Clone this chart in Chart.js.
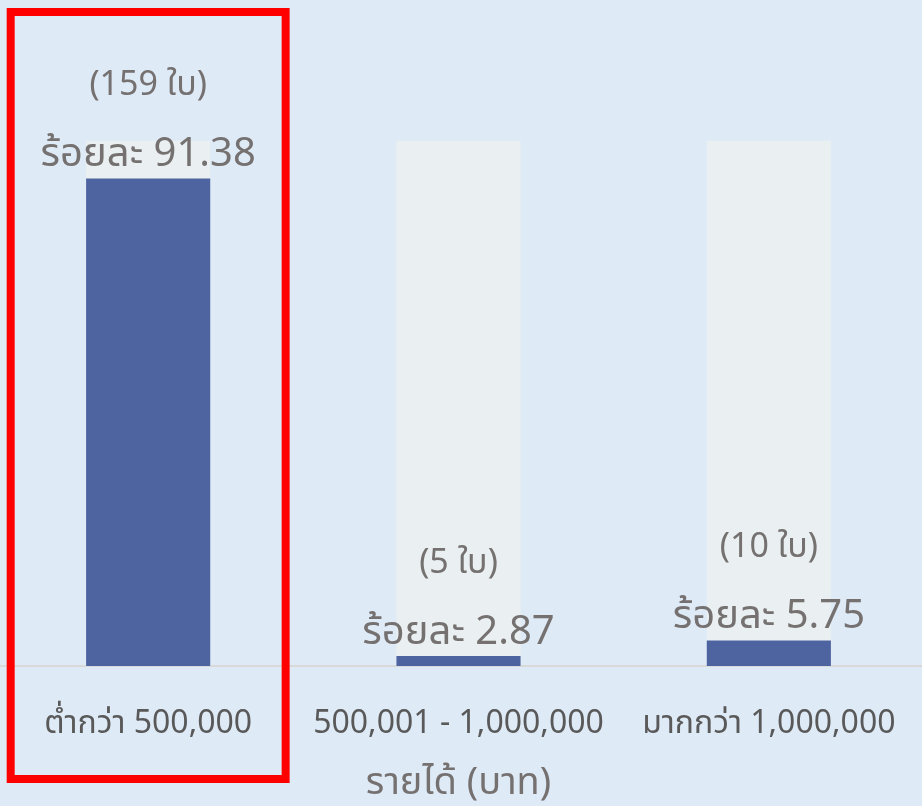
<!DOCTYPE html>
<html lang="th">
<head>
<meta charset="utf-8">
<script src="https://cdn.jsdelivr.net/npm/chart.js@4.4.1/dist/chart.umd.min.js"></script>
<style>
  html, body { margin: 0; padding: 0; background: #deeaf6; overflow: hidden; }
  #wrap { width: 931px; height: 806px; position: absolute; left: -7px; top: 0; }
</style>
</head>
<body>
<div id="wrap"><canvas id="income-chart"></canvas></div>
<script>
  const categories = ['ต่ำกว่า 500,000', '500,001 - 1,000,000', 'มากกว่า 1,000,000'];
  const percentValues = [91.38, 2.87, 5.75];
  const cardCounts = [159, 5, 10];
  const backdropValues = [98.4, 98.4, 98.4];
  const axisTitle = 'รายได้ (บาท)';

  const FONT = "'Noto Sans', 'Noto Sans Thai', sans-serif";
  const GREY = '#767171';

  const barLabels = {
    id: 'barLabels',
    afterDatasetsDraw(chart) {
      const meta = chart.getDatasetMeta(1);
      const c = chart.ctx;
      c.save();
      c.fillStyle = GREY;
      c.textAlign = 'center';
      c.textBaseline = 'alphabetic';
      meta.data.forEach((bar, i) => {
        c.font = '40px ' + FONT;
        c.fillText('ร้อยละ ' + percentValues[i].toFixed(2), bar.x, bar.y - 12);
        c.font = '34px ' + FONT;
        c.fillText('(' + cardCounts[i] + ' ใบ)', bar.x, bar.y - 83);
      });
      c.restore();
    },
  };

  // red frame round the first category
  const highlightBox = {
    id: 'highlightBox',
    afterDraw(chart) {
      const x = chart.scales.x;
      const cat = x.width / categories.length;
      const cx = x.getPixelForValue(0);
      const c = chart.ctx;
      c.save();
      c.strokeStyle = '#ff0000';
      c.lineWidth = 8;
      c.strokeRect(cx - cat * 0.443, 12, cat * 0.886, chart.height - 39);
      c.restore();
    },
  };

  new Chart(document.getElementById('income-chart'), {
    type: 'bar',
    data: {
      labels: categories,
      datasets: [
        {
          label: 'พื้นหลัง',
          data: backdropValues,
          backgroundColor: '#eaeff1',
          barPercentage: 0.4,
          categoryPercentage: 1,
          grouped: false,
          order: 2,
        },
        {
          label: 'ร้อยละ',
          data: percentValues,
          backgroundColor: '#4e64a0',
          barPercentage: 0.4,
          categoryPercentage: 1,
          grouped: false,
          order: 1,
        },
      ],
    },
    options: {
      responsive: true,
      maintainAspectRatio: false,
      animation: false,
      events: [],
      layout: { padding: { top: 132, left: 0, right: 0, bottom: 0 } },
      scales: {
        y: { display: false, min: 1, max: 100 },
        x: {
          grid: { display: false },
          border: { color: '#d9d9d9', width: 2 },
          ticks: { color: '#595959', font: { family: FONT, size: 32 }, padding: 31, maxRotation: 0 },
          title: {
            display: true,
            text: axisTitle,
            color: GREY,
            font: { family: FONT, size: 38 },
            padding: { top: 0, bottom: 0 },
          },
          afterFit(scale) {
            scale.height = 140;
            scale.paddingLeft = 0;
            scale.paddingRight = 0;
          },
        },
      },
      plugins: {
        legend: { display: false },
        tooltip: { enabled: false },
      },
    },
    plugins: [barLabels, highlightBox],
  });
</script>
</body>
</html>
